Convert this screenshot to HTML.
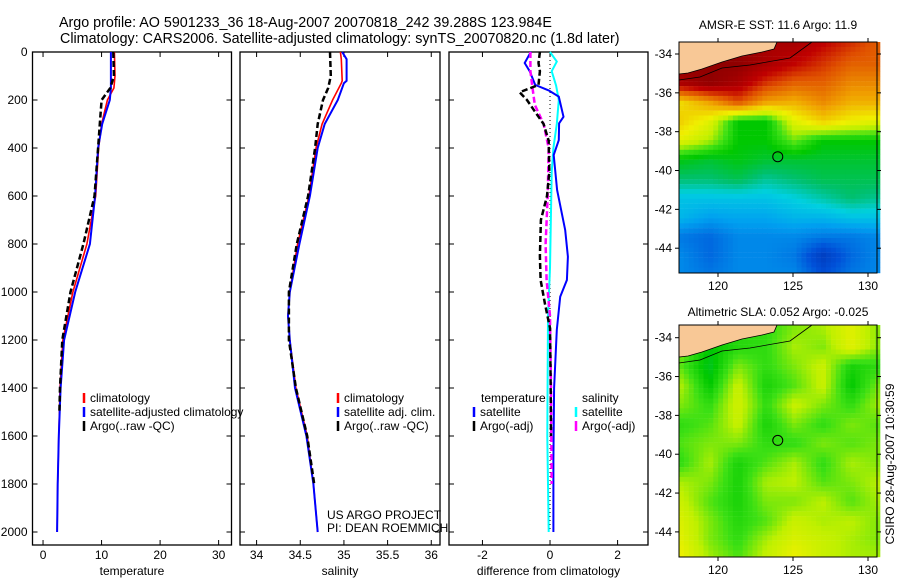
<!DOCTYPE html>
<html><head><meta charset="utf-8"><style>
html,body{margin:0;padding:0;background:#fff;width:900px;height:580px;overflow:hidden}
svg{display:block;font-family:"Liberation Sans",Arial,sans-serif}
text{font-size:12px;fill:#000}
</style></head><body>
<svg id="fig" width="900" height="580" viewBox="0 0 900 580">
<text x="59" y="27" style="font-size:14.3px">Argo profile: AO 5901233_36 18-Aug-2007 20070818_242 39.288S 123.984E</text>
<text x="60" y="43" style="font-size:14.3px">Climatology: CARS2006. Satellite-adjusted climatology: synTS_20070820.nc (1.8d later)</text>
<g id="p1"></g>
<g id="p2"></g>
<g id="p3"></g>
<g id="m1"></g>
<g id="m2"></g>
<text x="778" y="29" text-anchor="middle">AMSR-E SST: 11.6 Argo: 11.9</text>
<text x="778" y="316" text-anchor="middle">Altimetric SLA: 0.052 Argo: -0.025</text>
<text transform="translate(894,464) rotate(-90)" text-anchor="middle">CSIRO 28-Aug-2007 10:30:59</text>
</svg>
<script>
// ---- profile data ----
const tDepth=[0,100,150,200,300,400,600,800,1000,1200,1400,1600,1800,2000];
const tClim=[12.2,12.3,12.1,11.0,10.0,9.5,9.0,7.5,5.1,3.4,2.9,2.7,2.5,2.4];
const tSat=[11.6,11.6,11.6,11.4,10.1,9.4,8.9,8.0,5.5,3.6,3.0,2.7,2.5,2.4];
const tArgoDepth=[0,100,150,200,300,400,600,800,1000,1200,1400,1500];
const tArgo=[12.0,12.1,11.5,10.0,9.7,9.4,8.8,6.9,4.7,3.3,2.9,2.8];
const sDepth=[0,30,120,130,200,300,400,600,800,1000,1100,1200,1400,1600,1800,2000];
const sClim=[34.96,34.97,34.98,34.97,34.87,34.75,34.68,34.60,34.47,34.38,34.36,34.38,34.45,34.58,34.65,34.70];
const sSat=[34.98,35.03,35.03,35.0,34.93,34.78,34.70,34.61,34.49,34.38,34.36,34.38,34.44,34.57,34.65,34.70];
const sArgoDepth=[0,100,150,200,300,400,600,800,1000,1200,1400,1600,1800];
const sArgo=[34.84,34.85,34.82,34.76,34.70,34.67,34.59,34.46,34.37,34.37,34.45,34.58,34.66];
const dTsDepth=[0,5,46,80,137,160,186,270,297,367,429,575,742,853,950,1020,1158,1400,1700,2000];
const dTsat=[-0.55,-0.59,-0.75,-0.6,-0.44,-0.04,0.26,0.4,0.27,0.26,0.11,0.21,0.45,0.53,0.5,0.3,0.2,0.12,0.1,0.1];
const dTaDepth=[0,46,80,137,168,200,250,300,370,500,600,700,850,950,1050,1150,1400,1600];
const dTargo=[-0.3,-0.34,-0.3,-0.34,-0.9,-0.68,-0.44,-0.19,-0.04,-0.02,-0.09,-0.27,-0.3,-0.28,-0.15,0,0.02,0.03];
const dSsDepth=[0,40,80,140,200,300,400,500,900,1100,1600,2000];
const dSsat=[0,0.2,0.05,0.18,0.26,0.2,0.1,0.05,0,-0.06,-0.08,-0.04];
const dSaDepth=[0,80,137,220,300,400,600,800,950,1100,1400,1800];
const dSargo=[-0.58,-0.58,-0.53,-0.45,-0.19,-0.04,-0.07,-0.13,-0.1,0,0.03,0.05];
const depthTicks=[0,200,400,600,800,1000,1200,1400,1600,1800,2000];
const tTicks=[0,10,20,30], sTicks=[34,34.5,35,35.5,36], dTicks=[-2,0,2];

const NS="http://www.w3.org/2000/svg";
function mk(parent,tag,attrs,txt){const e=document.createElementNS(NS,tag);for(const k in attrs)e.setAttribute(k,attrs[k]);if(txt!==undefined)e.textContent=txt;parent.appendChild(e);return e;}
const yD=d=>52+d*0.24;

function panel(g,x0,x1,xmin,xmax,ticks,label,showY){
  const xs=v=>x0+(v-xmin)/(xmax-xmin)*(x1-x0);
  const box=mk(g,'rect',{x:x0,y:52,width:x1-x0,height:493,fill:'none',stroke:'#000','stroke-width':1.3});
  
  
  ticks.forEach(t=>{const x=xs(t);
    mk(g,'line',{x1:x,y1:52,x2:x,y2:57,stroke:'#000'});mk(g,'line',{x1:x,y1:545,x2:x,y2:540,stroke:'#000'});
    const tl=mk(g,'text',{x:x,y:559,'text-anchor':'middle'},String(t));
    
    });
  depthTicks.forEach(d=>{const y=yD(d);
    mk(g,'line',{x1:x0,y1:y,x2:x0+5,y2:y,stroke:'#000'});mk(g,'line',{x1:x1,y1:y,x2:x1-5,y2:y,stroke:'#000'});
    if(showY){const yl=mk(g,'text',{x:x0-5,y:y+4,'text-anchor':'end'},String(d));
      
      }});
  const xl=mk(g,'text',{x:(x0+x1)/2,y:575,'text-anchor':'middle'},label);
  
  
  return xs;
}
function line(g,xs,depths,vals,color,w,dash,name){
  const pts=depths.map((d,i)=>xs(vals[i]).toFixed(1)+','+yD(d).toFixed(1)).join(' ');
  const p=mk(g,'polyline',{points:pts,fill:'none',stroke:color,'stroke-width':w});
  if(dash)p.setAttribute('stroke-dasharray',dash);
  
  
}
function legend(g,x,y,color,txt,name){
  mk(g,'line',{x1:x,y1:y-9,x2:x,y2:y+1,stroke:color,'stroke-width':2.5});
  const t=mk(g,'text',{x:x+6,y:y},txt);
  
  
}
const g1=document.getElementById('p1');
const xs1=panel(g1,32.5,231.5,-1.8,32.2,tTicks,'temperature',true);
line(g1,xs1,tDepth,tClim,'#f00',1.6,null,'climatology-line');
line(g1,xs1,tDepth,tSat,'#00f',2,null,'satellite-adjusted-line');
line(g1,xs1,tArgoDepth,tArgo,'#000',2.5,'6,3','argo-line');
legend(g1,84,402,'#f00','climatology','legend-climatology');
legend(g1,84,416,'#00f','satellite-adjusted climatology','legend-satellite');
legend(g1,84,430,'#000','Argo(..raw -QC)','legend-argo');
const g2=document.getElementById('p2');
const xs2=panel(g2,240,440,33.81,36.1,sTicks,'salinity',false);
line(g2,xs2,sDepth,sClim,'#f00',1.6,null,'climatology-line');
line(g2,xs2,sDepth,sSat,'#00f',2,null,'satellite-adjusted-line');
line(g2,xs2,sArgoDepth,sArgo,'#000',2.5,'6,3','argo-line');
legend(g2,338,402,'#f00','climatology','legend-climatology');
legend(g2,338,416,'#00f','satellite adj. clim.','legend-satellite');
legend(g2,338,430,'#000','Argo(..raw -QC)','legend-argo');
const c1=mk(g2,'text',{x:327,y:519},'US ARGO PROJECT');
const c2=mk(g2,'text',{x:327,y:532},'PI: DEAN ROEMMICH');
const g3=document.getElementById('p3');
const xs3=panel(g3,449,648,-2.99,2.9,dTicks,'difference from climatology',false);
mk(g3,'line',{x1:xs3(0),y1:52,x2:xs3(0),y2:532,stroke:'#000','stroke-dasharray':'1,3'});
line(g3,xs3,dSsDepth,dSsat,'#0ff',2,null,'salinity-satellite-diff');
line(g3,xs3,dTsDepth,dTsat,'#00f',2,null,'temperature-satellite-diff');
line(g3,xs3,dSaDepth,dSargo,'#f0f',2.5,'6,3','salinity-argo-diff');
line(g3,xs3,dTaDepth,dTargo,'#000',2.5,'6,3','temperature-argo-diff');
const lt=mk(g3,'text',{x:481,y:402},'temperature');
const ls=mk(g3,'text',{x:582,y:402},'salinity');
legend(g3,474,416,'#00f','satellite','legend-temp-satellite');
legend(g3,474,430,'#000','Argo(-adj)','legend-temp-argo');
legend(g3,576,416,'#0ff','satellite','legend-sal-satellite');
legend(g3,576,430,'#f0f','Argo(-adj)','legend-sal-argo');

// ---- maps ----
const sstGrid=[
[1,1,1,.95,.95,.9,.85,.8],
[1,1,1,.95,.9,.85,.8,.8],
[.95,1,.95,.85,.8,.8,.75,.75],
[.65,.72,.82,.72,.7,.75,.7,.7],
[.66,.6,.45,.45,.6,.66,.62,.6],
[.6,.55,.45,.45,.52,.45,.45,.45],
[.44,.42,.44,.42,.42,.42,.42,.42],
[.38,.38,.4,.36,.38,.4,.4,.4],
[.3,.3,.3,.3,.32,.35,.38,.36],
[.28,.25,.26,.26,.28,.28,.3,.3],
[.2,.18,.22,.22,.22,.2,.2,.22],
[.22,.18,.22,.22,.2,.1,.18,.22],
[.22,.2,.22,.22,.22,.15,.2,.22]];
const slaGrid=[
[.53,.48,.49,.49,.53,.55,.6,.53],
[.53,.45,.48,.49,.55,.53,.6,.53],
[.51,.43,.53,.49,.53,.57,.47,.49],
[.55,.45,.57,.47,.51,.57,.45,.53],
[.53,.49,.58,.49,.57,.53,.49,.55],
[.49,.51,.57,.47,.53,.49,.53,.51],
[.51,.53,.53,.49,.49,.53,.51,.53],
[.49,.55,.47,.51,.55,.49,.55,.53],
[.55,.53,.47,.55,.56,.51,.53,.56],
[.57,.51,.47,.53,.53,.56,.51,.55],
[.59,.53,.48,.51,.57,.55,.56,.53],
[.6,.53,.49,.55,.59,.57,.55,.53],
[.62,.55,.51,.57,.62,.57,.55,.55]];
const stops=[[0,[0,24,144]],[.15,[0,80,216]],[.25,[0,160,240]],[.32,[0,208,224]],[.38,[0,192,112]],[.45,[0,200,0]],[.5,[60,224,20]],[.56,[192,240,0]],[.62,[240,240,0]],[.72,[240,160,0]],[.82,[224,80,0]],[.9,[192,0,0]],[1,[144,0,0]]];
function cmap(v){v=Math.max(0,Math.min(1,v));for(let i=1;i<stops.length;i++){if(v<=stops[i][0]){const a=stops[i-1],b=stops[i],f=(v-a[0])/(b[0]-a[0]);return 'rgb('+a[1].map((c,k)=>Math.round(c+(b[1][k]-c)*f)).join(',')+')';}}return 'rgb(144,0,0)';}
const lonTicks=[120,125,130], latTicks=[-34,-36,-38,-40,-42,-44];
function map(g,top,bottom,grid,lat34){
  const L=679,R=877;
  const lx=lon=>L+(lon-117.4)/(130.6-117.4)*(R-L);
  const ly=lat=>lat34+(-34-lat)*19.42;
  const nc=grid[0].length,nr=grid.length;
  const cw=4.9;
  for(let y=top;y<bottom;y+=cw){for(let x=L;x<R;x+=cw){
    const gx=(x-L)/(R-L)*(nc-1),gy=(y-top)/(bottom-top)*(nr-1);
    const i=Math.min(Math.floor(gx),nc-2),j=Math.min(Math.floor(gy),nr-2),fx=gx-i,fy=gy-j;
    const v=grid[j][i]*(1-fx)*(1-fy)+grid[j][i+1]*fx*(1-fy)+grid[j+1][i]*(1-fx)*fy+grid[j+1][i+1]*fx*fy;
    mk(g,'rect',{x:x.toFixed(1),y:y.toFixed(1),width:cw+0.4,height:Math.min(cw,bottom-y)+0.2,fill:cmap(v)});}}
  const land=mk(g,'polygon',{points:`${L},${top} 777,${top} 774,${top+7} 762,${top+10} 742,${top+14} 722,${top+20} 702,${top+27} 688,${top+31} ${L},${top+32}`,fill:'#f8c896',stroke:'#000','stroke-width':0.8});
  
  
  mk(g,'polyline',{points:`${L},${top+38} 700,${top+35} 722,${top+26} 750,${top+23} 790,${top+16} 812,${top}`,fill:'none',stroke:'#000','stroke-width':0.8});
  mk(g,'rect',{x:L,y:top,width:R-L,height:bottom-top,fill:'none',stroke:'#000','stroke-width':1});
  lonTicks.forEach(t=>{const x=lx(t);mk(g,'line',{x1:x,y1:top,x2:x,y2:top-4,stroke:'#000'});mk(g,'line',{x1:x,y1:bottom,x2:x,y2:bottom+4,stroke:'#000'});
    const tl=mk(g,'text',{x:x,y:bottom+17,'text-anchor':'middle'},String(t));
    
    });
  latTicks.forEach(t=>{const y=ly(t);mk(g,'line',{x1:L,y1:y,x2:L-4,y2:y,stroke:'#000'});mk(g,'line',{x1:R,y1:y,x2:R+4,y2:y,stroke:'#000'});
    const tl=mk(g,'text',{x:L-7,y:y+4,'text-anchor':'end'},String(t));
    
    });
  const c=mk(g,'circle',{cx:lx(123.984),cy:ly(-39.288),r:5,fill:'none',stroke:'#000','stroke-width':1});
  
  
}
map(document.getElementById('m1'),42,273,sstGrid,54);
map(document.getElementById('m2'),325,557,slaGrid,337.7);
</script>
</body></html>
